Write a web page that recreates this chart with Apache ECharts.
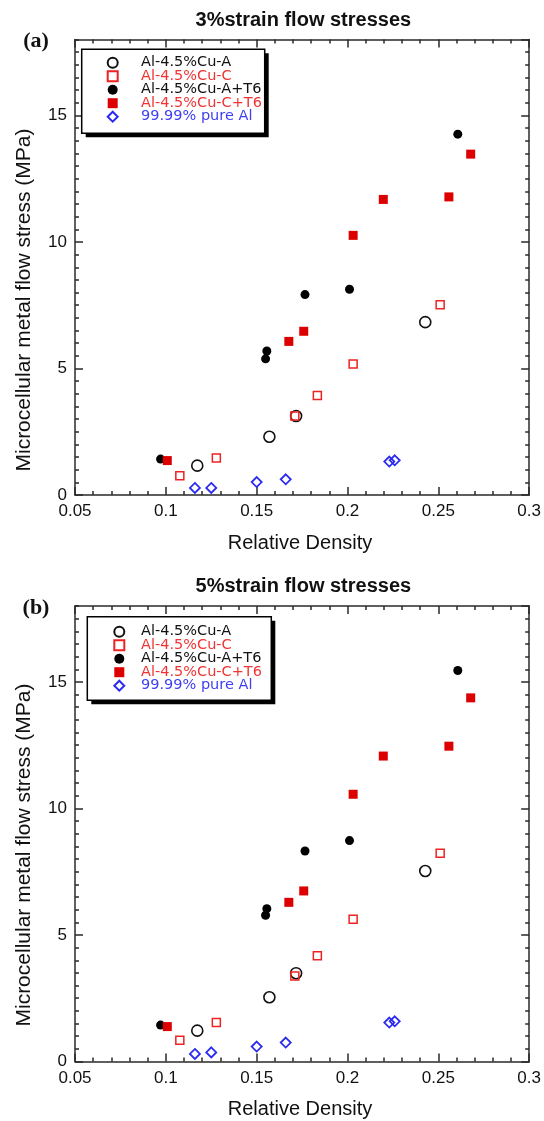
<!DOCTYPE html>
<html>
<head>
<meta charset="utf-8">
<script src="https://cdn.jsdelivr.net/npm/echarts@6/dist/echarts.min.js"></script>
<style>
  html, body { margin: 0; padding: 0; background: #fff; }
  #chart { width: 544px; height: 1121px; }
</style>
</head>
<body>
<div id="chart"></div>
<script>
// Flow stresses of microcellular Al-4.5%Cu and pure Al vs relative density
const seriesNames = ['Al-4.5%Cu-A', 'Al-4.5%Cu-C', 'Al-4.5%Cu-A+T6', 'Al-4.5%Cu-C+T6', '99.99% pure Al'];
const panelTitles = ['3%strain flow stresses', '5%strain flow stresses'];
const panelTags = ['(a)', '(b)'];
const xTitle = 'Relative Density';
const yTitle = 'Microcellular metal flow stress (MPa)';

// relative densities per material
const densityCuA   = [0.1173, 0.157, 0.1717, 0.2428];
const densityCuC   = [0.1077, 0.1278, 0.171, 0.1834, 0.2031, 0.251];
const densityCuAT6 = [0.0971, 0.1549, 0.1556, 0.1766, 0.2011, 0.2607];
const densityCuCT6 = [0.1008, 0.1677, 0.1759, 0.2031, 0.2197, 0.2558, 0.2678];
const densityPure  = [0.116, 0.125, 0.150, 0.166, 0.223, 0.226];

// flow stress at 3% strain (MPa)
const stress3CuA   = [1.16, 2.30, 3.12, 6.83];
const stress3CuC   = [0.76, 1.46, 3.12, 3.93, 5.18, 7.52];
const stress3CuAT6 = [1.42, 5.38, 5.69, 7.92, 8.13, 14.26];
const stress3CuCT6 = [1.36, 6.07, 6.47, 10.26, 11.68, 11.78, 13.47];
const stress3Pure  = [0.28, 0.28, 0.51, 0.62, 1.32, 1.37];

// flow stress at 5% strain (MPa)
const stress5CuA   = [1.22, 2.54, 3.49, 7.53];
const stress5CuC   = [0.84, 1.54, 3.38, 4.18, 5.62, 8.23];
const stress5CuAT6 = [1.44, 5.78, 6.04, 8.32, 8.73, 15.45];
const stress5CuCT6 = [1.38, 6.29, 6.74, 10.56, 12.07, 12.46, 14.37];
const stress5Pure  = [0.30, 0.36, 0.59, 0.75, 1.54, 1.59];

const densities = [densityCuA, densityCuC, densityCuAT6, densityCuCT6, densityPure];
const stressByPanel = [
  [stress3CuA, stress3CuC, stress3CuAT6, stress3CuCT6, stress3Pure],
  [stress5CuA, stress5CuC, stress5CuAT6, stress5CuCT6, stress5Pure]
];

const FONT = '"Liberation Sans", Arial, Helvetica, sans-serif';
const LEGEND_FONT = '"DejaVu Sans", "Liberation Sans", Arial, sans-serif';
const AXIS_COLOR = '#2a2a2a';
const RED_FILL = '#dd0000';
const RED_LINE = '#ee2222';
const BLUE = '#2a2af0';

// marker look for each material
const markerStyles = [
  { symbol: 'circle', symbolSize: 11, itemStyle: { color: 'rgba(255,255,255,0)', borderColor: '#111', borderWidth: 1.6, opacity: 1 } },
  { symbol: 'rect', symbolSize: 8, itemStyle: { color: 'rgba(255,255,255,0)', borderColor: RED_LINE, borderWidth: 1.5, opacity: 1 } },
  { symbol: 'circle', symbolSize: 9, itemStyle: { color: '#000', borderWidth: 0, opacity: 1 } },
  { symbol: 'rect', symbolSize: 9, itemStyle: { color: RED_FILL, borderWidth: 0, opacity: 1 } },
  { symbol: 'diamond', symbolSize: 10, itemStyle: { color: 'rgba(255,255,255,0)', borderColor: BLUE, borderWidth: 1.8, opacity: 1 } }
];
const legendTextColors = ['#111', '#f03434', '#111', '#f03434', '#4040f2'];

const grids = [
  { left: 75, top: 39.5, width: 456.7, height: 455.5 },
  { left: 75, top: 606, width: 456.7, height: 455.5 }
];
// legend frame, centre of its marker column and of its first row
const legendBoxes = [
  { x: 81.7, y: 49.3, w: 183, h: 84, symbolX: 111.7, firstRowY: 62.7 },
  { x: 87.3, y: 616.7, w: 184, h: 83.5, symbolX: 118.3, firstRowY: 631.7 }
];
const LEGEND_TEXT_X = 140;
const LEGEND_ROW = 13.5;
const LEGEND_ITEM_H = 16;

const xAxes = [], yAxes = [], series = [], legends = [], graphics = [];

grids.forEach((g, p) => {
  const lineStyle = { color: AXIS_COLOR, width: 1.5 };
  const xBase = {
    gridIndex: p, type: 'value', min: 0.05, max: 0.3, interval: 0.05,
    axisLine: { show: true, onZero: false, lineStyle },
    axisTick: { show: true, inside: true, length: 8, lineStyle },
    minorTick: { show: true, splitNumber: 5, length: 4, lineStyle },
    splitLine: { show: false }, minorSplitLine: { show: false }
  };
  xAxes.push(Object.assign({}, xBase, {
    position: 'bottom',
    axisLabel: { show: true, fontSize: 17, fontFamily: FONT, color: '#111', margin: 8 }
  }));
  xAxes.push(Object.assign({}, xBase, { position: 'top', axisLabel: { show: false } }));

  ['left', 'right'].forEach(side => {
    // labelled axis with long ticks every 5 MPa
    yAxes.push({
      gridIndex: p, type: 'value', position: side, min: 0, max: 18, interval: 5,
      axisLine: { show: true, onZero: false, lineStyle },
      axisTick: { show: true, inside: true, length: 8, lineStyle },
      axisLabel: {
        show: side === 'left', fontSize: 17, fontFamily: FONT, color: '#111', margin: 8,
        showMaxLabel: false,
        formatter: v => (v % 5 === 0 ? String(v) : '')
      },
      splitLine: { show: false }
    });
    // short ticks every 0.5 MPa
    yAxes.push({
      gridIndex: p, type: 'value', position: side, min: 0, max: 18, interval: 0.5,
      axisLine: { show: false },
      axisTick: { show: true, inside: true, length: 4, lineStyle },
      axisLabel: { show: false },
      splitLine: { show: false }
    });
  });

  seriesNames.forEach((name, k) => {
    const ys = stressByPanel[p][k];
    series.push(Object.assign({
      name, type: 'scatter',
      xAxisIndex: p * 2, yAxisIndex: p * 4,
      data: densities[k].map((x, i) => [x, ys[i]]),
      emphasis: { disabled: true },
      z: k === 0 || k === 1 || k === 4 ? 3 : 2
    }, JSON.parse(JSON.stringify(markerStyles[k]))));
  });

  const lb = legendBoxes[p];
  const legendLeft = lb.symbolX - 5;
  legends.push({
    orient: 'vertical', left: legendLeft, top: lb.firstRowY - LEGEND_ITEM_H / 2, padding: 0,
    itemWidth: 10, itemHeight: 10, itemGap: LEGEND_ROW - LEGEND_ITEM_H,
    selectedMode: false,
    textStyle: {
      fontSize: 14.5, fontFamily: LEGEND_FONT, lineHeight: LEGEND_ITEM_H,
      padding: [0, 0, 0, LEGEND_TEXT_X - (legendLeft + 15)]
    },
    data: seriesNames.map((n, k) => ({ name: n, textStyle: { color: legendTextColors[k] } }))
  });

  // legend frame with a hard drop shadow
  graphics.push({
    type: 'rect', z: 3,
    shape: { x: lb.x + 4, y: lb.y + 4, width: lb.w, height: lb.h },
    style: { fill: '#000' }
  });
  graphics.push({
    type: 'rect', z: 3,
    shape: { x: lb.x, y: lb.y, width: lb.w, height: lb.h },
    style: { fill: '#fff', stroke: '#000', lineWidth: 1.5 }
  });

  const cx = g.left + g.width / 2;
  graphics.push({
    type: 'text', z: 5,
    style: { text: panelTitles[p], x: cx, y: g.top - 19.5, align: 'center', verticalAlign: 'middle',
             font: 'bold 20px ' + FONT, fill: '#111' }
  });
  graphics.push({
    type: 'text', z: 5,
    style: { text: panelTags[p], x: 36, y: g.top + 2, align: 'center', verticalAlign: 'middle',
             font: 'bold 22px "Liberation Serif", "Times New Roman", serif', fill: '#111' }
  });
  graphics.push({
    type: 'text', z: 5,
    style: { text: xTitle, x: 300, y: g.top + g.height + 48, align: 'center', verticalAlign: 'middle',
             font: '20px ' + FONT, fill: '#111' }
  });
  graphics.push({
    type: 'text', z: 5, x: 24, y: p === 0 ? 300 : 855, rotation: Math.PI / 2,
    style: { text: yTitle, x: 0, y: 0, align: 'center', verticalAlign: 'middle',
             font: '21px ' + FONT, fill: '#111' }
  });
});

const chart = echarts.init(document.getElementById('chart'), null, { renderer: 'canvas' });
chart.setOption({
  backgroundColor: '#fff',
  animation: false,
  grid: grids,
  xAxis: xAxes,
  yAxis: yAxes,
  legend: legends,
  series,
  graphic: graphics
});
</script>
</body>
</html>
